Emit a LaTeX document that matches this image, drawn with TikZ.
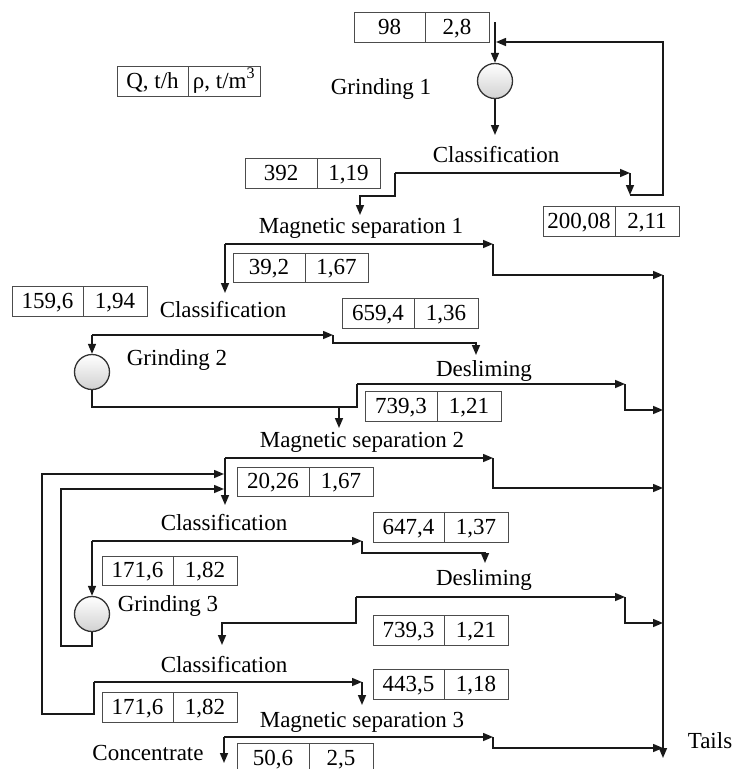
\documentclass[tikz,border=0pt]{standalone}
\usepackage{fontspec}
\setmainfont{Liberation Serif}
\usetikzlibrary{arrows.meta}
\newcommand\dbox[8]{%
  \node[cell, minimum width={#3-#2}, minimum height={#6-#5}] (#1l) at ({(#2+#3)/2},{(#5+#6)/2}) {#7};
  \node[cell, minimum width={#4-#3}, minimum height={#6-#5}] (#1r) at ({(#3+#4)/2},{(#5+#6)/2}) {#8};
}
\tikzset{
  arr/.style={-{Triangle[length=10pt,width=8pt]}, line width=1.5pt, draw=black!90},
  ln/.style={line width=1.5pt, draw=black!90},
  cell/.style={draw=black!70, line width=1pt, inner sep=0pt, text height=15pt, text depth=1pt, font=\fontsize{23}{23}\selectfont, text=black},
  lab/.style={inner sep=0pt, anchor=base, font=\fontsize{23}{23}\selectfont, text=black},
  mill/.style={circle, draw=black!80, line width=1.3pt, minimum size=35pt, inner sep=0pt, top color=white, bottom color=black!18},
}
\begin{document}
\begin{tikzpicture}[x=1pt, y=-1pt]
\useasboundingbox (0,0) rectangle (737,769);
% data boxes
\dbox{b98}{354}{425}{489}{12}{42}{98}{2,8}
\dbox{leg}{117}{188}{260}{66}{96}{Q, t/h}{ρ, t/m\textsuperscript{3}}
\dbox{b392}{245}{317}{380}{158}{188}{392}{1,19}
\dbox{b200}{543}{615}{679}{206}{236}{200,08}{2,11}
\dbox{b39}{233}{305}{368}{253}{282}{39,2}{1,67}
\dbox{b159}{12}{83}{147}{286}{316}{159,6}{1,94}
\dbox{b659}{342}{414}{478}{298}{328}{659,4}{1,36}
\dbox{b739a}{365}{437}{501}{391}{421}{739,3}{1,21}
\dbox{b20}{237}{309}{373}{467}{496}{20,26}{1,67}
\dbox{b647}{373}{444}{508}{512}{542}{647,4}{1,37}
\dbox{b171a}{102}{173}{237}{556}{585}{171,6}{1,82}
\dbox{b739b}{373}{444}{508}{615}{645}{739,3}{1,21}
\dbox{b443}{373}{444}{508}{669}{699}{443,5}{1,18}
\dbox{b171b}{102}{173}{237}{692}{722}{171,6}{1,82}
\dbox{b50}{237}{309}{373}{743}{773}{50,6}{2,5}
% mills
\node[mill] (g1) at (495,81) {};
\node[mill] (g2) at (92,372) {};
\node[mill] (g3) at (92,614) {};
% labels
\node[lab] (g1t) at (381,94) {Grinding 1};
\node[lab] (cls1) at (496,162) {Classification};
\node[lab] (ms1) at (361,233) {Magnetic separation 1};
\node[lab] (cls2) at (223,317) {Classification};
\node[lab] (g2t) at (177,365) {Grinding 2};
\node[lab] (des1) at (484,376) {Desliming};
\node[lab] (ms2) at (362,447) {Magnetic separation 2};
\node[lab] (cls3) at (224,530) {Classification};
\node[lab] (g3t) at (168,611) {Grinding 3};
\node[lab] (des2) at (484,585) {Desliming};
\node[lab] (cls4) at (224,672) {Classification};
\node[lab] (ms3) at (362,727) {Magnetic separation 3};
\node[lab] (conc) at (148,760) {Concentrate};
\node[lab] (tails) at (710,748) {Tails};
% coordinates
\coordinate (feed) at (495,22);
\coordinate (c1in) at (495,135);
\coordinate (c1a) at (395,173);
\coordinate (c1b) at (630,173);
\coordinate (c1c) at (630,195);
\coordinate (rc1) at (496,42);
\coordinate (ms1in) at (360,215);
\coordinate (m1a) at (225,244);
\coordinate (m1b) at (493,244);
\coordinate (t0) at (663,275);
\coordinate (tend) at (663,758);
\coordinate (c2in) at (225,293);
\coordinate (c2a) at (92,335);
\coordinate (c2b) at (333,335);
\coordinate (d1in) at (476,355);
\coordinate (j2) at (339,407);
\coordinate (ms2in) at (339,428);
\coordinate (d1a) at (357,384);
\coordinate (d1b) at (625,384);
\coordinate (t1) at (663,410);
\coordinate (m2a) at (225,458);
\coordinate (m2b) at (493,458);
\coordinate (t2) at (663,488);
\coordinate (c3in) at (225,505);
\coordinate (r1) at (224,474);
\coordinate (r2) at (224,489);
\coordinate (c3a) at (92,541);
\coordinate (c3b) at (362,541);
\coordinate (d2in) at (485,563);
\coordinate (d2a) at (356,597);
\coordinate (d2b) at (625,597);
\coordinate (t3) at (663,623);
\coordinate (c4in) at (222,645);
\coordinate (c4a) at (94,682);
\coordinate (c4b) at (362,682);
\coordinate (ms3in) at (362,705);
\coordinate (m3a) at (224,737);
\coordinate (m3b) at (493,737);
\coordinate (t4) at (663,748);
\coordinate (concin) at (224,763);
% grinding 1 / classification 1
\draw[arr] (feed) -- (g1);
\draw[arr] (g1) -- (c1in);
\draw[arr] (c1a) -- (c1b);
\draw[arr] (c1b) -- (c1c);
\draw[arr] (c1c) -- (663,195) -- (663,42) -- (rc1);
\draw[arr] (c1a) -- (395,196) -- (360,196) -- (ms1in);
% magnetic separation 1
\draw[arr] (m1a) -- (m1b);
\draw[arr] (m1b) -- (493,275) -- (t0);
\draw[arr] (m1a) -- (c2in);
\draw[arr] (t0) -- (tend);
% classification 2
\draw[arr] (c2a) -- (c2b);
\draw[arr] (c2b) -- (333,343) -- (476,343) -- (d1in);
\draw[arr] (c2a) -- (g2);
% grinding 2 + desliming 1
\draw[ln] (g2) -- (92,407) -- (357,407) -- (d1a);
\draw[arr] (d1a) -- (d1b);
\draw[arr] (d1b) -- (625,410) -- (t1);
\draw[arr] (j2) -- (ms2in);
% magnetic separation 2
\draw[arr] (m2a) -- (m2b);
\draw[arr] (m2b) -- (493,488) -- (t2);
\draw[arr] (m2a) -- (c3in);
% recycles
\draw[arr] (c4a) -- (94,714) -- (42,714) -- (42,474) -- (r1);
\draw[arr] (g3) -- (92,646) -- (61,646) -- (61,489) -- (r2);
% classification 3
\draw[arr] (c3a) -- (c3b);
\draw[arr] (c3b) -- (362,553) -- (485,553) -- (d2in);
\draw[arr] (c3a) -- (g3);
% desliming 2
\draw[arr] (d2a) -- (d2b);
\draw[arr] (d2b) -- (625,623) -- (t3);
\draw[arr] (d2a) -- (356,623) -- (222,623) -- (c4in);
% classification 4
\draw[arr] (c4a) -- (c4b);
\draw[arr] (c4b) -- (ms3in);
% magnetic separation 3
\draw[arr] (m3a) -- (m3b);
\draw[arr] (m3b) -- (493,748) -- (t4);
\draw[arr] (m3a) -- (concin);
\end{tikzpicture}
\end{document}
